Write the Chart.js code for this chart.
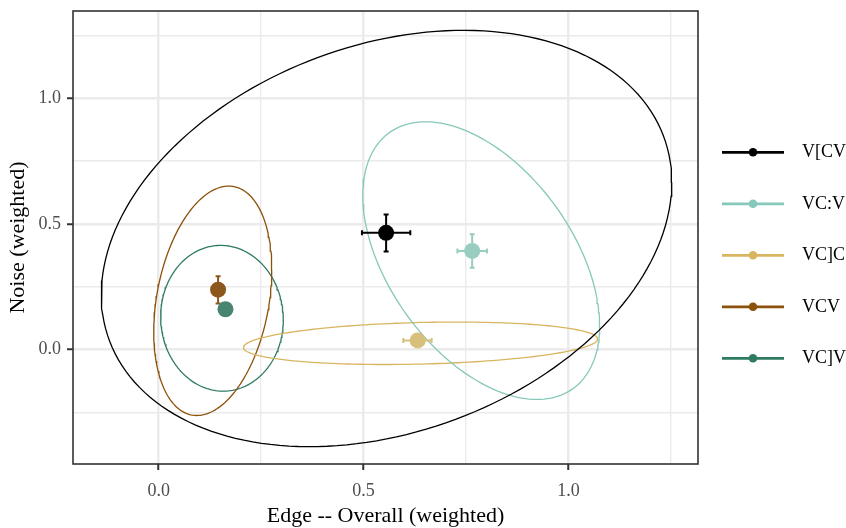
<!DOCTYPE html>
<html><head><meta charset="utf-8">
<script src="https://cdn.jsdelivr.net/npm/chart.js@4.4.0/dist/chart.umd.min.js"></script>
<style>html,body{margin:0;padding:0;background:#fff;}#wrap{position:relative;width:846px;height:528px;}</style>
</head><body><div id="wrap"><canvas id="c" width="846" height="528"></canvas></div>
<script>
// ---- data ----
const series = ["V[CV", "VC:V", "VC]C", "VCV", "VC]V"];
const pointX = [0.555, 0.765, 0.632, 0.145, 0.163];
const pointY = [0.464, 0.392, 0.036, 0.238, 0.160];
const xErrLow  = [0.496, 0.729, 0.597, 0.133, 0.153];
const xErrHigh = [0.614, 0.801, 0.666, 0.157, 0.173];
const yErrLow  = [0.390, 0.325, 0.030, 0.183, 0.150];
const yErrHigh = [0.537, 0.458, 0.042, 0.291, 0.170];
// ellipse parameters: centre, half extents, correlation
const ellCx = [0.556, 0.787, 0.639, 0.132, 0.1545];
const ellCy = [0.4415, 0.3535, 0.0245, 0.1935, 0.124];
const ellHx = [0.696, 0.289, 0.432, 0.144, 0.1496];
const ellHy = [0.8285, 0.5525, 0.0845, 0.4565, 0.290];
const ellR  = [0.27, -0.47, 0.20, 0.27, -0.02];
const xTicks = [0, 0.25, 0.5, 0.75, 1.0, 1.25];
const xTickLabels = ["0.0", "", "0.5", "", "1.0", ""];
const yTicks = [-0.25, 0, 0.25, 0.5, 0.75, 1.0, 1.25];
const yTickLabels = ["", "0.0", "", "0.5", "", "1.0", ""];
const lineColors  = ["#000000", "#86C8B9", "#D8B661", "#8C510A", "#2F7A63"];
const pointColors = ["#000000", "#98CDC0", "#D7BF7C", "#8C571C", "#478571"];

const FONT = "'Liberation Serif', 'DejaVu Serif', serif";

function ellipsePts(i) {
  const pts = [];
  const s = Math.sqrt(1 - ellR[i] * ellR[i]);
  for (let k = 0; k <= 180; k++) {
    const t = k / 180 * 2 * Math.PI;
    pts.push({ x: ellCx[i] + ellHx[i] * Math.cos(t),
               y: ellCy[i] + ellHy[i] * (ellR[i] * Math.cos(t) + s * Math.sin(t)) });
  }
  return pts;
}

const datasets = [];
series.forEach((name, i) => {
  datasets.push({ label: name + " ellipse", data: ellipsePts(i), showLine: true, fill: false,
    borderColor: lineColors[i], borderWidth: 1.3, pointRadius: 0, tension: 0, order: 10 });
});
series.forEach((name, i) => {
  datasets.push({ label: name, data: [{ x: pointX[i], y: pointY[i] }], showLine: false,
    pointRadius: 8, pointHoverRadius: 8, pointBackgroundColor: pointColors[i],
    pointBorderColor: pointColors[i], pointBorderWidth: 0, order: 5 - i, seriesIndex: i });
});

const deco = {
  id: 'deco',
  beforeDatasetDraw(chart, args) {
    const ds = chart.data.datasets[args.index];
    if (ds.seriesIndex === undefined) return;
    const i = ds.seriesIndex;
    const xs = chart.scales.x, ys = chart.scales.y;
    const ctx = chart.ctx;
    const px = xs.getPixelForValue(pointX[i]), py = ys.getPixelForValue(pointY[i]);
    const xl = xs.getPixelForValue(xErrLow[i]), xh = xs.getPixelForValue(xErrHigh[i]);
    const yl = ys.getPixelForValue(yErrLow[i]), yh = ys.getPixelForValue(yErrHigh[i]);
    const c = 2.5;
    ctx.save();
    ctx.strokeStyle = pointColors[i];
    ctx.lineWidth = 2;
    ctx.beginPath();
    ctx.moveTo(xl, py); ctx.lineTo(xh, py);
    ctx.moveTo(xl, py - c); ctx.lineTo(xl, py + c);
    ctx.moveTo(xh, py - c); ctx.lineTo(xh, py + c);
    ctx.moveTo(px, yl); ctx.lineTo(px, yh);
    ctx.moveTo(px - c, yl); ctx.lineTo(px + c, yl);
    ctx.moveTo(px - c, yh); ctx.lineTo(px + c, yh);
    ctx.stroke();
    ctx.restore();
  },
  afterDraw(chart) {
    const ctx = chart.ctx;
    const a = chart.chartArea;
    ctx.save();
    // panel border
    ctx.strokeStyle = '#333333';
    ctx.lineWidth = 1.6;
    ctx.strokeRect(a.left, a.top, a.right - a.left, a.bottom - a.top);
    // axis titles
    ctx.fillStyle = '#000000';
    ctx.font = "22px " + FONT;
    ctx.textAlign = 'center';
    ctx.textBaseline = 'middle';
    ctx.fillText("Edge -- Overall (weighted)", (a.left + a.right) / 2, 516);
    ctx.save();
    ctx.translate(18, (a.top + a.bottom) / 2);
    ctx.rotate(-Math.PI / 2);
    ctx.fillText("Noise (weighted)", 0, 0);
    ctx.restore();
    // legend
    ctx.font = "18px " + FONT;
    ctx.textAlign = 'left';
    series.forEach((name, i) => {
      const y = 152.3 + i * 51.5;
      ctx.strokeStyle = lineColors[i];
      ctx.lineWidth = 2.7;
      ctx.beginPath(); ctx.moveTo(722, y); ctx.lineTo(784, y); ctx.stroke();
      ctx.fillStyle = lineColors[i];
      ctx.beginPath(); ctx.arc(753, y, 4.3, 0, 2 * Math.PI); ctx.fill();
      ctx.fillStyle = '#000000';
      ctx.fillText(name, 802, y);
    });
    ctx.restore();
  }
};

function isMajor(labels, idx) { return labels[idx] !== undefined && labels[idx] !== ""; }

new Chart(document.getElementById('c'), {
  type: 'scatter',
  data: { datasets },
  options: {
    responsive: false, animation: false, devicePixelRatio: 1,
    layout: { padding: { left: 0, right: 148, top: 11, bottom: 0 } },
    plugins: { legend: { display: false }, tooltip: { enabled: false } },
    events: [],
    scales: {
      x: {
        type: 'linear', min: -0.209, max: 1.316,
        afterBuildTicks: s => { s.ticks = xTicks.map(v => ({ value: v })); },
        afterFit: s => { s.height = 64; s.paddingLeft = 0; s.paddingRight = 0; },
        ticks: { callback: (v, i) => xTickLabels[i], font: { family: FONT, size: 18 }, color: '#4D4D4D',
                 padding: 10, maxRotation: 0, autoSkip: false },
        grid: { color: '#EBEBEB', lineWidth: c => isMajor(xTickLabels, c.index) ? 2.5 : 1.4,
                tickLength: 6, tickWidth: 2,
                tickColor: c => isMajor(xTickLabels, c.index) ? '#333333' : 'rgba(0,0,0,0)' },
        border: { display: false }
      },
      y: {
        type: 'linear', min: -0.456, max: 1.347,
        afterBuildTicks: s => { s.ticks = yTicks.map(v => ({ value: v })); },
        afterFit: s => { s.width = 73; s.paddingTop = 0; s.paddingBottom = 0; },
        ticks: { callback: (v, i) => yTickLabels[i], font: { family: FONT, size: 18 }, color: '#4D4D4D',
                 padding: 6, autoSkip: false },
        grid: { color: '#EBEBEB', lineWidth: c => isMajor(yTickLabels, c.index) ? 2.5 : 1.4,
                tickLength: 6, tickWidth: 2,
                tickColor: c => isMajor(yTickLabels, c.index) ? '#333333' : 'rgba(0,0,0,0)' },
        border: { display: false }
      }
    }
  },
  plugins: [deco]
});
</script></body></html>
